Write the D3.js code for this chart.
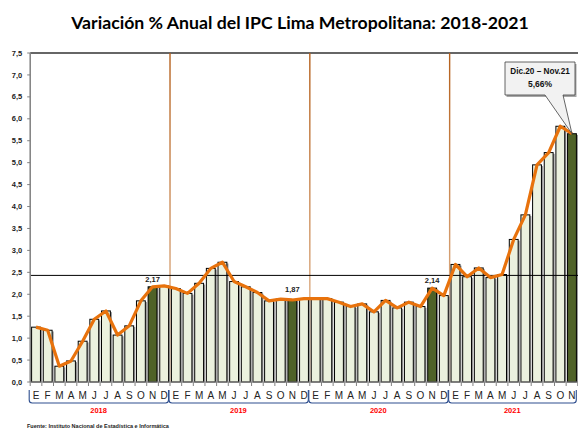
<!DOCTYPE html>
<html>
<head>
<meta charset="utf-8">
<script src="https://cdn.jsdelivr.net/npm/d3@7"></script>
<style>
  body { margin: 0; background: #fff; }
  svg { display: block; }
</style>
</head>
<body>
<div id="chart"></div>
<script>
// datos: variación % anual IPC Lima Metropolitana
const years = ['2018', '2019', '2020', '2021'];
const monthLetters = ['E', 'F', 'M', 'A', 'M', 'J', 'J', 'A', 'S', 'O', 'N', 'D'];
const values2018 = [1.25, 1.18, 0.36, 0.48, 0.93, 1.43, 1.62, 1.07, 1.28, 1.85, 2.17, 2.19];
const values2019 = [2.13, 2.02, 2.25, 2.59, 2.73, 2.29, 2.17, 2.04, 1.85, 1.89, 1.87, 1.90];
const values2020 = [1.90, 1.90, 1.82, 1.72, 1.78, 1.60, 1.86, 1.69, 1.82, 1.72, 2.14, 1.97];
const values2021 = [2.68, 2.40, 2.60, 2.38, 2.45, 3.25, 3.81, 4.95, 5.23, 5.83, 5.66];
const yTicks = [0, 0.5, 1, 1.5, 2, 2.5, 3, 3.5, 4, 4.5, 5, 5.5, 6, 6.5, 7, 7.5];
const refLine = 2.43;
const highlighted = [10, 22, 34, 46]; // noviembres
const labelled = [[10, '2,17'], [22, '1,87'], [34, '2,14']];

let fmt = function (v) {
    return v.toFixed(1).replace('.', ',');
}

let drawChart = function () {
    const W = 578, H = 430;
    const left = 30.2, right = 577.8, top = 53, bottom = 382;

    const data = [];
    [values2018, values2019, values2020, values2021].forEach(function (arr, yi) {
        arr.forEach(function (v, mi) {
            data.push({ i: data.length, year: years[yi], m: monthLetters[mi], v: v });
        });
    });

    const svg = d3.select('#chart').append('svg')
        .attr('width', W).attr('height', H);

    const defs = svg.append('defs');
    const grad = defs.append('linearGradient')
        .attr('id', 'sep').attr('x1', 0).attr('x2', 0).attr('y1', 0).attr('y2', 1);
    grad.append('stop').attr('offset', '0%').attr('stop-color', '#b5601c');
    grad.append('stop').attr('offset', '100%').attr('stop-color', '#e8c4a4');

    const x = d3.scaleBand()
        .domain(data.map(d => d.i))
        .range([left, right])
        .paddingInner(0.24)
        .paddingOuter(0.12);
    const step = x.step();
    const y = d3.scaleLinear().domain([0, 7.5]).range([bottom, top]);

    // title
    svg.append('text')
        .attr('x', 300).attr('y', 29)
        .attr('text-anchor', 'middle')
        .attr('font-family', 'Lato, sans-serif')
        .attr('font-weight', 700)
        .attr('font-size', 17.7)
        .attr('fill', '#000')
        .text('Variación % Anual del IPC Lima Metropolitana: 2018-2021');

    // top border
    svg.append('line')
        .attr('x1', left).attr('x2', W).attr('y1', top).attr('y2', top)
        .attr('stroke', '#333').attr('stroke-width', 1.5);

    // year separators
    [12, 24, 36].forEach(function (k) {
        const xs = left + k * step;
        svg.append('rect')
            .attr('x', xs - 0.7).attr('y', top).attr('width', 1.4).attr('height', bottom - top)
            .attr('fill', 'url(#sep)');
    });

    // bar shadows
    svg.append('g').selectAll('rect')
        .data(data).enter().append('rect')
        .attr('x', d => x(d.i) + 1.6)
        .attr('y', d => y(d.v) + 1.2)
        .attr('width', x.bandwidth())
        .attr('height', d => bottom - y(d.v) - 1.2)
        .attr('fill', '#9a9a9a');

    // bars
    svg.append('g').selectAll('rect')
        .data(data).enter().append('rect')
        .attr('x', d => x(d.i))
        .attr('y', d => y(d.v))
        .attr('width', x.bandwidth())
        .attr('height', d => bottom - y(d.v))
        .attr('fill', d => highlighted.indexOf(d.i) >= 0 ? '#4f6228' : '#ebf1de')
        .attr('stroke', '#000')
        .attr('stroke-width', 1);

    // reference line
    svg.append('line')
        .attr('x1', left).attr('x2', W).attr('y1', y(refLine)).attr('y2', y(refLine))
        .attr('stroke', '#000').attr('stroke-width', 1);

    // orange line
    const line = d3.line()
        .x(d => x(d.i) + x.bandwidth() / 2)
        .y(d => y(d.v));
    svg.append('path')
        .datum(data)
        .attr('d', line)
        .attr('fill', 'none')
        .attr('stroke', '#e8720c')
        .attr('stroke-width', 3.2)
        .attr('stroke-linejoin', 'round');

    // y axis
    svg.append('line')
        .attr('x1', left).attr('x2', left).attr('y1', top).attr('y2', bottom)
        .attr('stroke', '#808080').attr('stroke-width', 1.5);
    svg.append('line')
        .attr('x1', left).attr('x2', right).attr('y1', bottom).attr('y2', bottom)
        .attr('stroke', '#808080').attr('stroke-width', 1.2);
    const yg = svg.append('g');
    yTicks.forEach(function (t) {
        yg.append('line')
            .attr('x1', left - 3).attr('x2', left).attr('y1', y(t)).attr('y2', y(t))
            .attr('stroke', '#808080');
        yg.append('text')
            .attr('x', left - 8).attr('y', y(t) + 2.6)
            .attr('text-anchor', 'end')
            .attr('font-family', 'Liberation Sans, Arial, sans-serif')
            .attr('font-weight', 700)
            .attr('font-size', 7.5)
            .attr('fill', '#222')
            .text(fmt(t));
    });

    // x ticks and month labels
    const xg = svg.append('g');
    for (let k = 0; k <= data.length; k++) {
        const xs = left + k * step;
        xg.append('line')
            .attr('x1', xs).attr('x2', xs).attr('y1', bottom).attr('y2', bottom + 4)
            .attr('stroke', '#808080');
    }
    xg.selectAll('text.m')
        .data(data).enter().append('text')
        .attr('class', 'm')
        .attr('x', d => x(d.i) + x.bandwidth() / 2)
        .attr('y', 399)
        .attr('text-anchor', 'middle')
        .attr('font-family', 'Liberation Sans, Arial, sans-serif')
        .attr('font-size', 10)
        .attr('fill', '#222')
        .text(d => d.m);

    // year brackets
    years.forEach(function (yr, yi) {
        const n = yi < 3 ? 12 : 11;
        const x0 = left + yi * 12 * step - 1.5;
        const x1 = left + (yi * 12 + n) * step - 1.5;
        const r = 3;
        svg.append('path')
            .attr('d', `M${x0 + 0.5},390 V${403 - r} Q${x0 + 0.5},403 ${x0 + 0.5 + r},403 H${x1 - r} Q${x1},403 ${x1},${403 - r} V390`)
            .attr('fill', 'none')
            .attr('stroke', '#2f4f8f')
            .attr('stroke-width', 1.1);
        svg.append('text')
            .attr('x', (x0 + x1) / 2).attr('y', 413)
            .attr('text-anchor', 'middle')
            .attr('font-family', 'Liberation Sans, Arial, sans-serif')
            .attr('font-weight', 700)
            .attr('font-size', 7.5)
            .attr('fill', '#ff0000')
            .text(yr);
    });

    // value labels
    labelled.forEach(function (p) {
        const d = data[p[0]];
        svg.append('text')
            .attr('x', x(d.i) + x.bandwidth() / 2)
            .attr('y', d.i === 22 ? y(d.v) - 8 : y(d.v) - 5)
            .attr('text-anchor', 'middle')
            .attr('font-family', 'Liberation Sans, Arial, sans-serif')
            .attr('font-weight', 700)
            .attr('font-size', 7.5)
            .attr('fill', '#222')
            .text(p[1]);
    });

    // callout
    const last = data[data.length - 1];
    const px = x(last.i) + x.bandwidth() / 2, py = y(last.v);
    const bx = 505, by = 62, bw = 70, bh = 33;
    svg.append('rect')
        .attr('x', bx + 1.5).attr('y', by + 2).attr('width', bw).attr('height', bh)
        .attr('fill', '#a6a6a6');
    svg.append('path')
        .attr('d', `M${bx},${by} H${bx + bw} V${by + bh} H${563} L${px},${py} L${545},${by + bh} H${bx} Z`)
        .attr('fill', '#f2f2f2')
        .attr('stroke', '#404040')
        .attr('stroke-width', 0.8);
    svg.append('text')
        .attr('x', bx + bw / 2).attr('y', by + 12)
        .attr('text-anchor', 'middle')
        .attr('font-family', 'Liberation Sans, Arial, sans-serif')
        .attr('font-weight', 700)
        .attr('font-size', 8.2)
        .attr('fill', '#111')
        .text('Dic.20 – Nov.21');
    svg.append('text')
        .attr('x', bx + bw / 2).attr('y', by + 25)
        .attr('text-anchor', 'middle')
        .attr('font-family', 'Liberation Sans, Arial, sans-serif')
        .attr('font-weight', 700)
        .attr('font-size', 8.5)
        .attr('fill', '#111')
        .text('5,66%');

    // fuente
    svg.append('text')
        .attr('x', 27).attr('y', 428)
        .attr('font-family', 'Liberation Sans, Arial, sans-serif')
        .attr('font-weight', 700)
        .attr('font-size', 5.5)
        .attr('fill', '#222')
        .text('Fuente: Instituto Nacional de Estadística e Informática');
}

drawChart();
</script>
</body>
</html>
